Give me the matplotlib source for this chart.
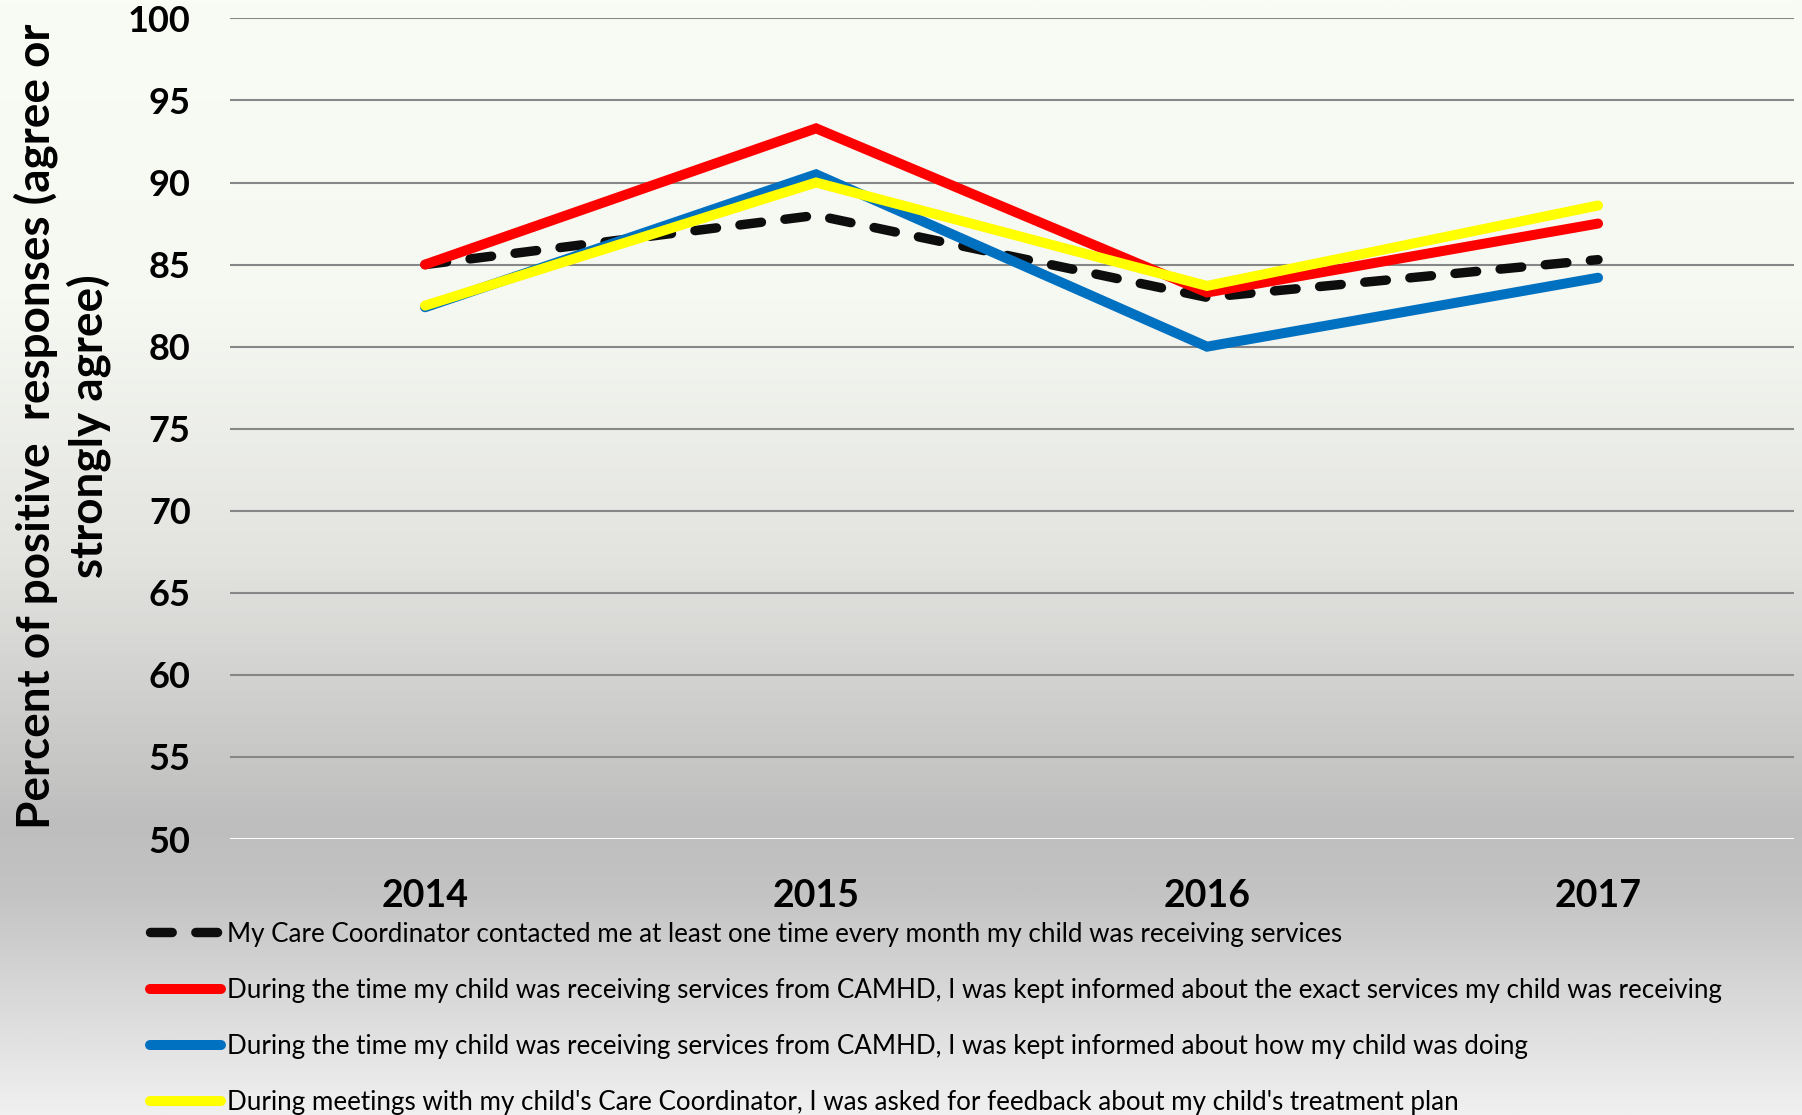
import matplotlib
matplotlib.use("Agg")
import matplotlib.pyplot as plt
from matplotlib.colors import LinearSegmentedColormap
import numpy as np

years = ["2014", "2015", "2016", "2017"]
contacted = [85.0, 88.0, 83.0, 85.3]
exact_services = [85.0, 93.3, 83.3, 87.5]
how_doing = [82.4, 90.5, 80.0, 84.2]
feedback = [82.5, 90.0, 83.7, 88.6]

labels = [
    "My Care Coordinator contacted me at least one time every month my child was receiving services",
    "During the time my child was receiving services from CAMHD, I was kept informed about the exact services my child was receiving",
    "During the time my child was receiving services from CAMHD, I was kept informed about how my child was doing",
    "During meetings with my child's Care Coordinator, I was asked for feedback about my child's treatment plan",
]
yticks = [50, 55, 60, 65, 70, 75, 80, 85, 90, 95, 100]

font = "Lato"

fig = plt.figure(figsize=(18.02, 11.15), dpi=100)

# vertical background shading, light on top, grey band under the plot, lighter again at the bottom
bg = fig.add_axes([0, 0, 1, 1], zorder=-10)
shade = LinearSegmentedColormap.from_list("shade", [
    (0.00, "#f9fcf5"), (0.27, "#f6f8f2"), (0.50, "#e3e4e0"),
    (0.74, "#bebebe"), (0.80, "#c3c3c3"), (1.00, "#f0f0f0")])
bg.imshow(np.linspace(0, 1, 512).reshape(-1, 1), cmap=shade, aspect="auto",
          extent=(0, 1, 0, 1))
bg.set_axis_off()

ax = fig.add_axes([0.1274, 0.2475, 0.8679, 0.736])
ax.patch.set_visible(False)
x = np.arange(len(years))

ax.plot(x, contacted, color="#0d0d0d", lw=6.8, linestyle=(0, (2.3, 2.5)),
        dash_capstyle="round", label=labels[0], zorder=3)
ax.plot(x, exact_services, color="#ff0000", lw=7.2, solid_capstyle="round",
        solid_joinstyle="miter", label=labels[1], zorder=4)
ax.plot(x, how_doing, color="#0070c0", lw=7.2, solid_capstyle="round",
        solid_joinstyle="miter", label=labels[2], zorder=5)
ax.plot(x, feedback, color="#ffff00", lw=7.2, solid_capstyle="round",
        solid_joinstyle="miter", label=labels[3], zorder=6)

ax.set_xlim(-0.5, 3.5)
ax.set_ylim(50, 100)
ax.set_yticks(yticks)
ax.set_xticks(x)
ax.set_xticklabels(years)
ax.grid(axis="y", color="#878787", lw=1.5, zorder=1)
ax.axhline(50, color="white", lw=2.2, zorder=2)
for s in ax.spines.values():
    s.set_visible(False)
ax.tick_params(axis="y", length=0, pad=28, labelsize=26)
ax.tick_params(axis="x", length=0, pad=29, labelsize=27)
for t in ax.get_yticklabels() + ax.get_xticklabels():
    t.set_fontfamily(font)
    t.set_fontweight("bold")

fig.text(0.0345, 0.618, "Percent of positive  responses (agree or\nstrongly agree)",
         rotation=90, ha="center", va="center", multialignment="center",
         fontsize=33, fontweight="bold", family=font, linespacing=1.25)

ax.legend(loc="upper left", bbox_to_anchor=(0.0835, 0.1735),
          bbox_transform=fig.transFigure, frameon=False, borderpad=0,
          borderaxespad=0, handlelength=2.7, handletextpad=0.25,
          labelspacing=1.2, prop={"family": font, "size": 18.7})

fig.savefig("out.png", dpi=100)
